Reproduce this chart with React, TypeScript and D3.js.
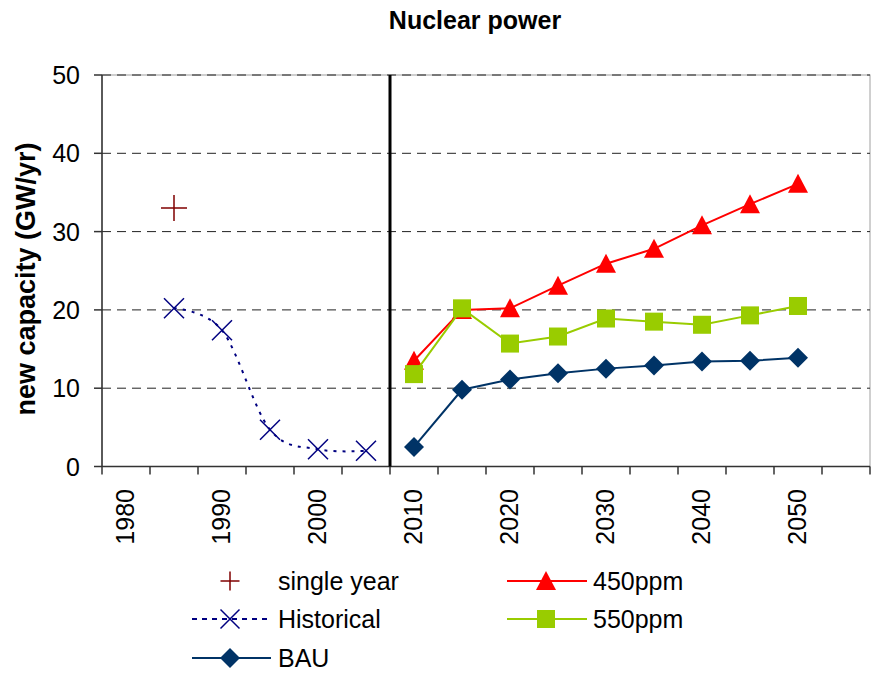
import React from "react";
import * as d3 from "d3";

// categories on the x axis (5 year steps)
const years = [1980, 1985, 1990, 1995, 2000, 2005, 2010, 2015, 2020, 2025, 2030, 2035, 2040, 2045, 2050, 2055];
const xTickLabels = [1980, 1990, 2000, 2010, 2020, 2030, 2040, 2050];
const yTicks = [0, 10, 20, 30, 40, 50];

const singleYearYears = [1985];
const singleYearValues = [33];

const historicalYears = [1985, 1990, 1995, 2000, 2005];
const historicalValues = [20.2, 17.4, 4.7, 2.2, 2.0];

const scenarioYears = [2010, 2015, 2020, 2025, 2030, 2035, 2040, 2045, 2050];
const bauValues = [2.5, 9.8, 11.1, 11.9, 12.5, 12.9, 13.4, 13.5, 13.9];
const ppm450Values = [13.5, 20.0, 20.2, 23.1, 25.9, 27.8, 30.8, 33.5, 36.1];
const ppm550Values = [11.8, 20.2, 15.7, 16.6, 18.9, 18.5, 18.1, 19.3, 20.5];

const W = 873;
const H = 677;
const left = 102;
const right = 870;
const top = 75;
const bottom = 466.5;

const font = "'Liberation Sans', Arial, sans-serif";

const x = d3.scaleBand<number>().domain(years).range([left, right]).padding(0);
const cx = (yr: number) => (x(yr) as number) + x.bandwidth() / 2;
const y = d3.scaleLinear().domain([0, 50]).range([bottom, top]);

const zip = (xs: number[], vs: number[]) => xs.map((yr, i) => [yr, vs[i]] as [number, number]);

const straight = d3.line<[number, number]>().x(d => cx(d[0])).y(d => y(d[1]));
const smooth = d3.line<[number, number]>().x(d => cx(d[0])).y(d => y(d[1])).curve(d3.curveCatmullRom.alpha(0));

const triangle = (px: number, py: number, s = 10) =>
  `M${px},${py - s} L${px + s},${py + s * 0.9} L${px - s},${py + s * 0.9} Z`;
const diamond = (px: number, py: number, s = 10) =>
  `M${px},${py - s} L${px + s},${py} L${px},${py + s} L${px - s},${py} Z`;

function Cross({ px, py, s = 10 }: { px: number; py: number; s?: number }) {
  return (
    <path d={`M${px - s},${py - s} L${px + s},${py + s} M${px - s},${py + s} L${px + s},${py - s}`}
      stroke="#000080" strokeWidth={1.5} fill="none" />
  );
}
function Plus({ px, py, s = 13 }: { px: number; py: number; s?: number }) {
  return (
    <path d={`M${px - s},${py} L${px + s},${py} M${px},${py - s} L${px},${py + s}`}
      stroke="#800000" strokeWidth={1.5} fill="none" />
  );
}

export default function App() {
  const bau = zip(scenarioYears, bauValues);
  const p450 = zip(scenarioYears, ppm450Values);
  const p550 = zip(scenarioYears, ppm550Values);
  const hist = zip(historicalYears, historicalValues);
  const single = zip(singleYearYears, singleYearValues);

  const boundaries = years.map(yr => x(yr) as number).concat([right]);

  return (
    <svg width={W} height={H} style={{ position: "absolute", left: 0, top: 0, background: "#fff" }} fontFamily={font}>
      {/* title */}
      <text x={475} y={29} textAnchor="middle" fontWeight="bold" fontSize={25}>Nuclear power</text>

      {/* plot border */}
      <rect x={left} y={top} width={right - left} height={bottom - top} fill="none" stroke="#a0a0a0" strokeWidth={1} />

      {/* gridlines */}
      {yTicks.filter(t => t > 0).map(t => (
        <line key={t} x1={left} x2={right} y1={y(t)} y2={y(t)} stroke="#222" strokeWidth={1} strokeDasharray="9,6" />
      ))}

      {/* y axis */}
      <line x1={left} x2={left} y1={top} y2={bottom} stroke="#333" strokeWidth={1.5} />
      {yTicks.map(t => (
        <g key={t}>
          <line x1={left - 8} x2={left} y1={y(t)} y2={y(t)} stroke="#333" strokeWidth={1.5} />
          <text x={80} y={y(t) + 9} textAnchor="end" fontSize={25}>{t}</text>
        </g>
      ))}
      <text transform={`translate(35,279) rotate(-90)`} textAnchor="middle" fontWeight="bold" fontSize={27}>
        new capacity (GW/yr)
      </text>

      {/* x axis */}
      <line x1={left} x2={right} y1={bottom} y2={bottom} stroke="#333" strokeWidth={1.5} />
      {boundaries.map((bx, i) => (
        <line key={i} x1={bx} x2={bx} y1={bottom} y2={bottom + 8} stroke="#333" strokeWidth={1.5} />
      ))}
      {xTickLabels.map(yr => (
        <text key={yr} transform={`translate(${cx(yr) + 8},489) rotate(-90)`} textAnchor="end" fontSize={25}>{yr}</text>
      ))}

      {/* separator between history and scenarios */}
      <line x1={x(2010) as number} x2={x(2010) as number} y1={top} y2={bottom} stroke="#000" strokeWidth={3} />

      {/* historical */}
      <path d={smooth(hist) || ""} fill="none" stroke="#000080" strokeWidth={2} strokeDasharray="3,6" />
      {hist.map((d, i) => <Cross key={i} px={cx(d[0])} py={y(d[1])} />)}
      {single.map((d, i) => <Plus key={i} px={cx(d[0])} py={y(d[1])} />)}

      {/* 450ppm */}
      <path d={straight(p450) || ""} fill="none" stroke="#ff0000" strokeWidth={2} />
      {p450.map((d, i) => <path key={i} d={triangle(cx(d[0]), y(d[1]))} fill="#ff0000" />)}

      {/* 550ppm */}
      <path d={straight(p550) || ""} fill="none" stroke="#99cc00" strokeWidth={2} />
      {p550.map((d, i) => (
        <rect key={i} x={cx(d[0]) - 9} y={y(d[1]) - 9} width={18} height={18} fill="#99cc00" />
      ))}

      {/* BAU */}
      <path d={straight(bau) || ""} fill="none" stroke="#003366" strokeWidth={2} />
      {bau.map((d, i) => <path key={i} d={diamond(cx(d[0]), y(d[1]))} fill="#003366" />)}

      {/* legend */}
      <g fontSize={25}>
        <Plus px={230} py={581} s={9.5} />
        <text x={278} y={590}>single year</text>

        <line x1={192} x2={267} y1={619} y2={619} stroke="#000080" strokeWidth={2} strokeDasharray="5,5" />
        <Cross px={230} py={619} s={9.5} />
        <text x={278} y={628}>Historical</text>

        <line x1={192} x2={271} y1={658} y2={658} stroke="#003366" strokeWidth={2} />
        <path d={diamond(230, 658)} fill="#003366" />
        <text x={278} y={667}>BAU</text>

        <line x1={507} x2={587} y1={581} y2={581} stroke="#ff0000" strokeWidth={2} />
        <path d={triangle(546, 581)} fill="#ff0000" />
        <text x={593} y={590}>450ppm</text>

        <line x1={507} x2={587} y1={619} y2={619} stroke="#99cc00" strokeWidth={2} />
        <rect x={537} y={610} width={18} height={18} fill="#99cc00" />
        <text x={593} y={628}>550ppm</text>
      </g>
    </svg>
  );
}
